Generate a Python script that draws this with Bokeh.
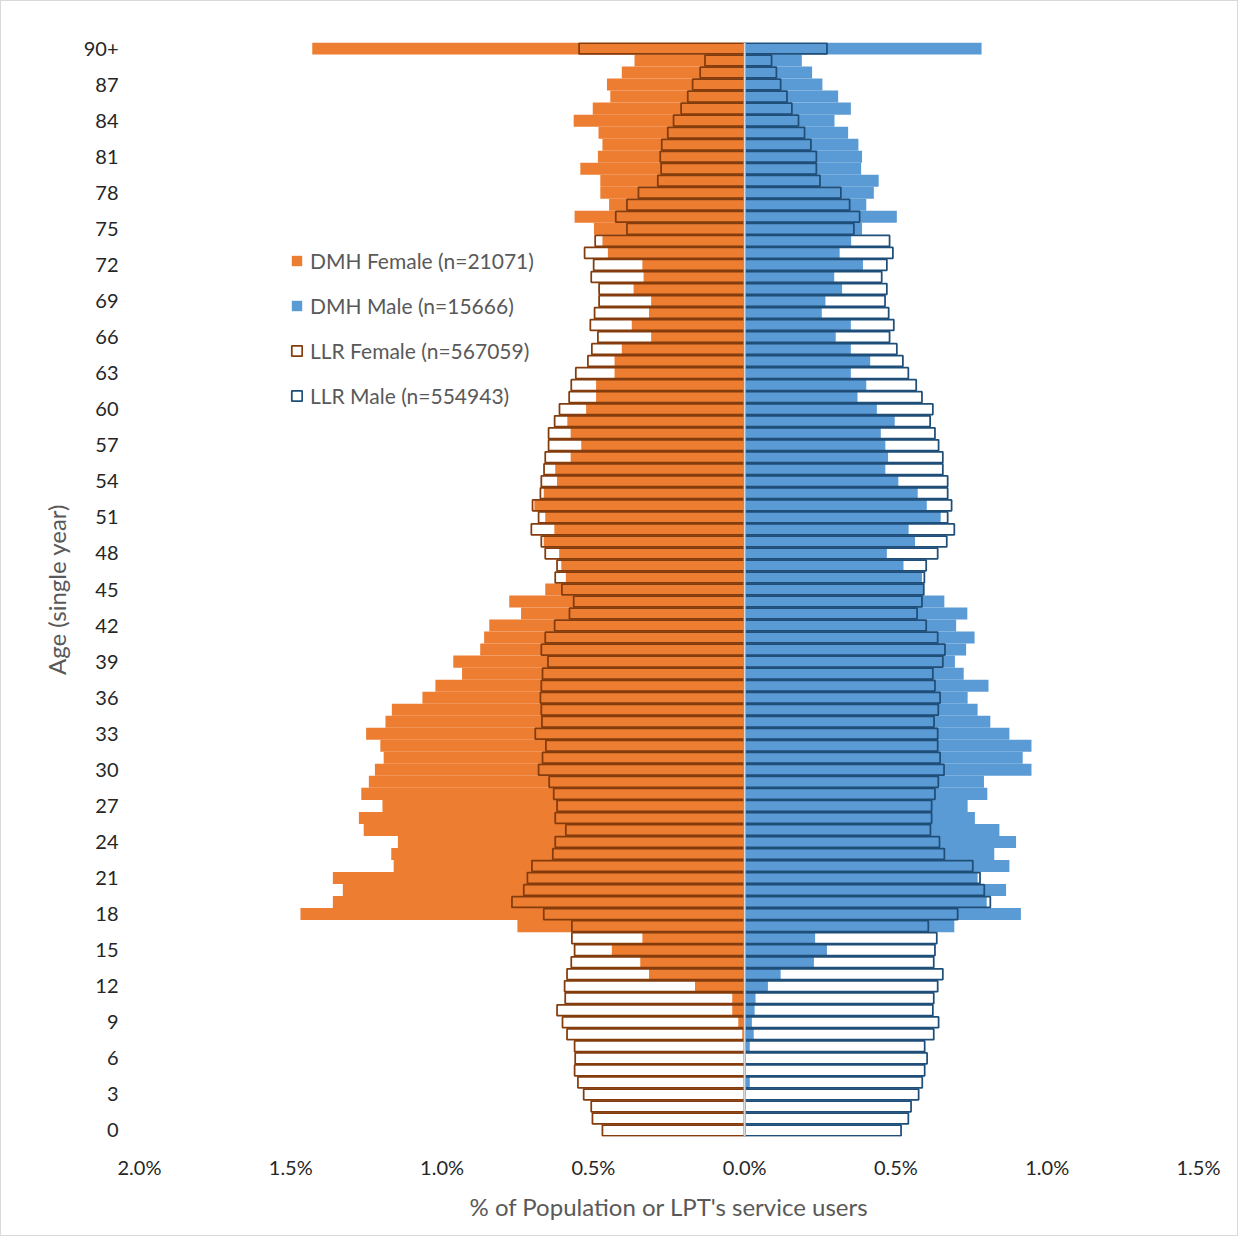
from bokeh.plotting import figure
from bokeh.models import ColumnDataSource, FixedTicker, Span, Legend, LegendItem
from bokeh.embed import file_html
from bokeh.resources import INLINE

ages = list(range(0, 91))
age_ticks = list(range(0, 91, 3))
age_tick_labels = {a: str(a) for a in age_ticks}
age_tick_labels[90] = "90+"

x_ticks = [-2.0, -1.5, -1.0, -0.5, 0.0, 0.5, 1.0, 1.5]
x_tick_labels = ["2.0%", "1.5%", "1.0%", "0.5%", "0.0%", "0.5%", "1.0%", "1.5%"]

# % of population / service users, age 0 .. 90+
dmh_female = [0, 0, 0, 0, 0, 0, 0, 0, 0.008, 0.021, 0.041, 0.041, 0.164, 0.316, 0.345, 0.439, 0.338, 0.751,
              1.468, 1.361, 1.328, 1.361, 1.160, 1.168, 1.146, 1.259, 1.275, 1.197, 1.267, 1.242, 1.222,
              1.193, 1.204, 1.251, 1.187, 1.166, 1.065, 1.022, 0.934, 0.963, 0.874, 0.861, 0.844, 0.739,
              0.778, 0.659, 0.591, 0.606, 0.613, 0.664, 0.629, 0.659, 0.695, 0.664, 0.620, 0.626, 0.575,
              0.540, 0.575, 0.586, 0.524, 0.491, 0.491, 0.430, 0.430, 0.406, 0.309, 0.373, 0.316, 0.309,
              0.367, 0.334, 0.338, 0.452, 0.470, 0.498, 0.562, 0.448, 0.477, 0.477, 0.543, 0.485, 0.470,
              0.483, 0.565, 0.502, 0.444, 0.455, 0.406, 0.364, 1.429]
llr_female = [0.470, 0.503, 0.507, 0.532, 0.551, 0.562, 0.560, 0.562, 0.587, 0.602, 0.620, 0.593, 0.595,
              0.587, 0.573, 0.562, 0.571, 0.571, 0.664, 0.769, 0.730, 0.718, 0.703, 0.634, 0.626, 0.591,
              0.626, 0.620, 0.631, 0.646, 0.681, 0.668, 0.657, 0.692, 0.670, 0.672, 0.675, 0.672, 0.668,
              0.650, 0.672, 0.659, 0.628, 0.579, 0.565, 0.604, 0.626, 0.620, 0.659, 0.672, 0.705, 0.681,
              0.701, 0.675, 0.672, 0.663, 0.659, 0.648, 0.648, 0.628, 0.612, 0.580, 0.573, 0.558, 0.518,
              0.505, 0.485, 0.510, 0.496, 0.481, 0.481, 0.507, 0.499, 0.529, 0.494, 0.389, 0.426, 0.389,
              0.351, 0.287, 0.276, 0.279, 0.274, 0.254, 0.235, 0.210, 0.188, 0.172, 0.147, 0.131, 0.547]
dmh_male = [0, 0, 0, 0, 0.017, 0, 0, 0.017, 0.030, 0.024, 0.033, 0.036, 0.077, 0.119, 0.229, 0.272, 0.233,
            0.693, 0.913, 0.800, 0.864, 0.770, 0.875, 0.825, 0.897, 0.842, 0.761, 0.737, 0.802, 0.791,
            0.948, 0.919, 0.948, 0.875, 0.812, 0.770, 0.737, 0.806, 0.724, 0.695, 0.732, 0.760, 0.699,
            0.736, 0.660, 0.590, 0.586, 0.525, 0.470, 0.563, 0.542, 0.648, 0.602, 0.572, 0.508, 0.465,
            0.474, 0.465, 0.450, 0.496, 0.437, 0.373, 0.402, 0.351, 0.415, 0.351, 0.301, 0.351, 0.255,
            0.267, 0.322, 0.296, 0.391, 0.314, 0.352, 0.388, 0.503, 0.402, 0.427, 0.443, 0.385, 0.388,
            0.376, 0.342, 0.297, 0.351, 0.309, 0.257, 0.223, 0.189, 0.783]
llr_male = [0.517, 0.541, 0.550, 0.575, 0.587, 0.595, 0.603, 0.595, 0.625, 0.641, 0.622, 0.625, 0.638,
            0.655, 0.625, 0.629, 0.635, 0.607, 0.704, 0.812, 0.792, 0.778, 0.754, 0.660, 0.644, 0.614,
            0.618, 0.618, 0.629, 0.640, 0.659, 0.646, 0.638, 0.638, 0.626, 0.640, 0.646, 0.629, 0.622,
            0.655, 0.662, 0.638, 0.600, 0.570, 0.586, 0.592, 0.594, 0.600, 0.638, 0.668, 0.693, 0.671,
            0.684, 0.671, 0.671, 0.655, 0.655, 0.641, 0.629, 0.613, 0.622, 0.586, 0.567, 0.541, 0.523,
            0.503, 0.479, 0.493, 0.476, 0.464, 0.470, 0.453, 0.470, 0.490, 0.479, 0.361, 0.380, 0.347,
            0.318, 0.249, 0.237, 0.237, 0.219, 0.198, 0.178, 0.156, 0.140, 0.119, 0.105, 0.089, 0.272]

series_names = ["DMH Female (n=21071)", "DMH Male (n=15666)", "LLR Female (n=567059)", "LLR Male (n=554943)"]

src = ColumnDataSource(dict(
    age=ages,
    dmh_f=[-v for v in dmh_female],
    llr_f=[-v for v in llr_female],
    dmh_m=dmh_male,
    llr_m=llr_male,
))

FONT = "Lato"

p = figure(width=1236, height=1234, output_backend="svg", toolbar_location=None,
           x_range=(-2.0, 1.5), y_range=(-0.5, 90.5),
           frame_width=1059, frame_height=1094,
           min_border_left=138, min_border_top=41, min_border_right=39, min_border_bottom=99)
p.styles = {"border": "1px solid #d9d9d9"}

r_df = p.hbar(y="age", left=0, right="dmh_f", height=1.0, source=src,
              fill_color="#ED7D31", line_color=None)
r_dm = p.hbar(y="age", left=0, right="dmh_m", height=1.0, source=src,
              fill_color="#5B9BD5", line_color=None)
r_lf = p.hbar(y="age", left=0, right="llr_f", height=0.9, source=src,
              fill_color=None, line_color="#843C0C", line_width=1.75)
r_lm = p.hbar(y="age", left=0, right="llr_m", height=0.9, source=src,
              fill_color=None, line_color="#1F4E79", line_width=1.75)

p.add_layout(Span(location=0, dimension="height", line_color="#d9d9d9", line_width=2))

p.grid.visible = False
p.outline_line_color = None

for ax in (p.xaxis[0], p.yaxis[0]):
    ax.axis_line_color = None
    ax.major_tick_line_color = None
    ax.minor_tick_line_color = None
    ax.major_label_text_font = FONT
    ax.major_label_text_font_size = "20px"
    ax.major_label_text_color = "#262626"
    ax.axis_label_text_font = FONT
    ax.axis_label_text_font_size = "24px"
    ax.axis_label_text_font_style = "normal"
    ax.axis_label_text_color = "#595959"

p.xaxis.ticker = FixedTicker(ticks=x_ticks)
p.xaxis.major_label_overrides = {t: l for t, l in zip(x_ticks, x_tick_labels)}
p.xaxis.major_label_standoff = 12
p.xaxis.axis_label = "% of Population or LPT's service users"
p.xaxis.axis_label_standoff = 10

p.yaxis.ticker = FixedTicker(ticks=age_ticks)
p.yaxis.major_label_overrides = age_tick_labels
p.yaxis.major_label_standoff = 15
p.yaxis.axis_label = "Age (single year)"
p.yaxis.axis_label_standoff = 10

legend = Legend(items=[LegendItem(label=series_names[0], renderers=[r_df]),
                       LegendItem(label=series_names[1], renderers=[r_dm]),
                       LegendItem(label=series_names[2], renderers=[r_lf]),
                       LegendItem(label=series_names[3], renderers=[r_lm])],
                location=(151, 728), orientation="vertical",
                glyph_width=13, glyph_height=13, label_height=20, spacing=20,
                label_standoff=7, padding=0, margin=0,
                border_line_color=None, background_fill_alpha=0,
                label_text_font=FONT, label_text_font_size="21px", label_text_color="#595959")
p.add_layout(legend)

open("out.html", "w").write(file_html(p, INLINE))
